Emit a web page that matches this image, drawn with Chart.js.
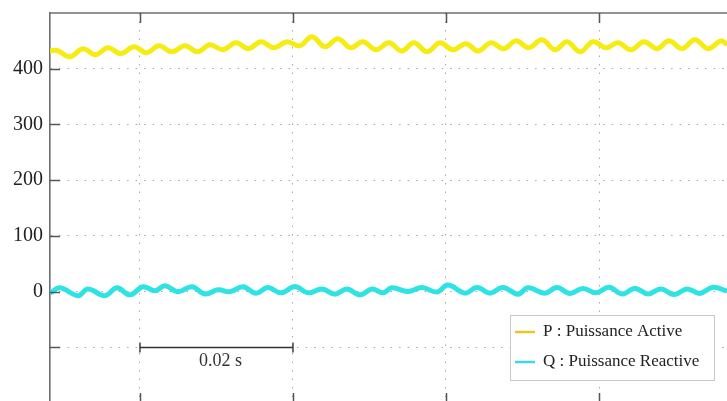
<!DOCTYPE html>
<html>
<head>
<meta charset="utf-8">
<script src="https://cdn.jsdelivr.net/npm/chart.js@4.4.1/dist/chart.umd.min.js"></script>
<style>
  html, body { margin: 0; padding: 0; background: #fff; overflow: hidden; }
  #wrap { width: 727px; height: 401px; }
</style>
</head>
<body>
<div id="wrap"><canvas id="puissance" width="727" height="401"></canvas></div>
<script>
// Temps en ms (0 = premiere ligne verticale de la grille), puissances
var tempsP = [-11.76, -10.85, -9.15, -7.45, -5.82, -4.18, -2.48, -0.78, 0.86, 2.48,
  4.18, 5.88, 7.53, 9.15, 10.85, 12.55, 14.20, 15.82, 17.52, 19.22,
  20.88, 22.48, 24.18, 25.88, 27.54, 29.15, 30.85, 32.55, 34.22, 35.82,
  37.52, 39.22, 40.89, 42.61, 44.18, 45.88, 47.56, 49.15, 50.85, 52.55,
  54.24, 55.82, 57.52, 59.22, 60.92, 62.48, 64.18, 65.88, 67.57, 69.15,
  70.85, 72.55, 74.25, 75.95, 76.73];
var valP = [432, 433, 421.5, 436, 425, 437.7, 427, 439.5, 428.7, 441.3,
  430.5, 441.3, 430.5, 443, 434, 446.7, 436, 448.5, 437.7, 448.5,
  441, 457.5, 439.5, 454, 437.7, 448.5, 434, 446.7, 432, 446.7,
  430.5, 446.7, 434, 445, 432, 446.7, 436, 450, 437.7, 452,
  434, 448.5, 430.5, 448.5, 437.7, 446.7, 434, 448.5, 436, 450,
  436, 452, 436, 450, 443];

var tempsQ = [-11.76, -10.46, -8.10, -6.80, -4.58, -3.01, -1.31, 0.39, 1.96, 3.27,
  4.97, 6.80, 8.50, 10.20, 11.76, 13.46, 15.16, 16.73, 18.43, 20.26,
  21.96, 23.79, 25.49, 27.06, 28.76, 30.33, 31.76, 32.94, 35.03, 36.86,
  38.82, 40.26, 42.48, 44.05, 45.75, 47.45, 49.41, 50.72, 52.94, 54.51,
  56.21, 57.91, 59.61, 61.31, 63.01, 64.71, 66.41, 68.10, 69.80, 71.50,
  73.20, 74.90, 76.73];
var valQ = [-2.5, 7, -7, 5, -7, 7, -5.6, 9, 1.6, 10.6,
  0, 9, -4, 3.5, 0, 9, -2.5, 7.5, -2, 9.3,
  -2, 5, -4.3, 5, -5.6, 5, -2, 7, 0.4, 7.5,
  -0.5, 12, -2.5, 7.5, -2.5, 7.5, -4.3, 7, -2.5, 7.5,
  -3, 6, -2, 8, -4, 6, -4, 5, -5, 5,
  -3, 8, 1];

var yTicks = [-100, 0, 100, 200, 300, 400];
var xTicks = [0, 20, 40, 60];
var nomsSeries = ['P : Puissance Active', 'Q : Puissance Reactive'];
var couleursSeries = ['#f6ec14', '#2fe2e4'];
var couleursLegende = ['#e8c52a', '#3ad8e0'];
// barre d'echelle : de 0 a 20 ms, posee sur la ligne -100
var echelleDebut = 0, echelleFin = 20, echelleNiveau = -100, echelleTexte = '0.02 s';

var serif = '"Liberation Serif", "DejaVu Serif", serif';

function points(t, v) {
  return t.map(function (x, i) { return { x: x, y: v[i] }; });
}

// cadre : bord haut, petites graduations interieures, barre 0.02 s, legende
var cadrePlugin = {
  id: 'cadre',
  afterDraw: function (chart) {
    var ctx = chart.ctx, a = chart.chartArea;
    var sx = chart.scales.x, sy = chart.scales.y;
    ctx.save();
    ctx.strokeStyle = '#6e6e6e';
    ctx.lineWidth = 1.6;
    ctx.beginPath();
    ctx.moveTo(a.left - 0.8, a.top);
    ctx.lineTo(a.right, a.top);
    ctx.stroke();

    ctx.lineWidth = 1.5;
    ctx.strokeStyle = '#555';
    xTicks.forEach(function (t) {
      var px = Math.round(sx.getPixelForValue(t)) + 0.5;
      ctx.beginPath();
      ctx.moveTo(px, a.top); ctx.lineTo(px, a.top + 10);
      ctx.moveTo(px, a.bottom); ctx.lineTo(px, a.bottom - 8);
      ctx.stroke();
    });
    yTicks.forEach(function (v) {
      var py = Math.round(sy.getPixelForValue(v)) + 0.5;
      ctx.beginPath();
      ctx.moveTo(a.left, py); ctx.lineTo(a.left + 10, py);
      ctx.stroke();
    });

    // barre d'echelle
    var x1 = sx.getPixelForValue(echelleDebut), x2 = sx.getPixelForValue(echelleFin);
    var yb = Math.round(sy.getPixelForValue(echelleNiveau)) + 0.5;
    ctx.strokeStyle = '#333';
    ctx.lineWidth = 1.4;
    ctx.beginPath();
    ctx.moveTo(x1, yb); ctx.lineTo(x2, yb);
    ctx.moveTo(x1, yb - 5); ctx.lineTo(x1, yb + 5);
    ctx.moveTo(x2, yb - 5); ctx.lineTo(x2, yb + 5);
    ctx.stroke();
    ctx.fillStyle = '#333';
    ctx.font = '18px ' + serif;
    ctx.textAlign = 'center';
    ctx.textBaseline = 'middle';
    ctx.fillText(echelleTexte, (x1 + x2) / 2 + 4, yb + 14);

    // legende
    var lx = 510, ly = 315, lw = 204, lh = 65;
    ctx.fillStyle = '#fff';
    ctx.fillRect(lx, ly, lw, lh);
    ctx.strokeStyle = '#c8c8c8';
    ctx.lineWidth = 1;
    ctx.strokeRect(lx + 0.5, ly + 0.5, lw, lh);
    ctx.font = '17px ' + serif;
    ctx.textAlign = 'left';
    nomsSeries.forEach(function (nom, i) {
      var cy = ly + 17 + i * 30;
      ctx.strokeStyle = couleursLegende[i];
      ctx.lineWidth = 2.5;
      ctx.beginPath();
      ctx.moveTo(lx + 5, cy); ctx.lineTo(lx + 25, cy);
      ctx.stroke();
      ctx.fillStyle = '#222';
      ctx.fillText(nom, lx + 33, cy);
    });
    ctx.restore();
  }
};

var ctxP = document.getElementById('puissance').getContext('2d');
var chartPuissance = new Chart(ctxP, {
  type: 'line',
  data: {
    datasets: [
      { label: nomsSeries[0], data: points(tempsP, valP), borderColor: couleursSeries[0],
        borderWidth: 5, pointRadius: 0, tension: 0.4, fill: false },
      { label: nomsSeries[1], data: points(tempsQ, valQ), borderColor: couleursSeries[1],
        borderWidth: 5, pointRadius: 0, tension: 0.4, fill: false }
    ]
  },
  options: {
    responsive: false, animation: false,
    layout: { padding: { top: 13, right: 0, bottom: 0, left: 0 } },
    scales: {
      x: {
        type: 'linear', min: -11.76, max: 76.73,
        afterBuildTicks: function (s) { s.ticks = xTicks.map(function (v) { return { value: v }; }); },
        afterFit: function (s) { s.height = 0; s.paddingLeft = 0; s.paddingRight = 0; },
        ticks: { display: false },
        grid: { color: '#a8a8a8', lineWidth: 1, drawTicks: false },
        border: { display: false, dash: [1.5, 7] }
      },
      y: {
        min: -196, max: 500,
        afterBuildTicks: function (s) { s.ticks = yTicks.map(function (v) { return { value: v }; }); },
        afterFit: function (s) { s.width = 50; s.paddingTop = 0; s.paddingBottom = 0; },
        ticks: {
          padding: 7, color: '#222',
          font: { family: serif, size: 20 },
          callback: function (v) { return v < 0 ? '' : String(v); }
        },
        grid: { color: '#a8a8a8', lineWidth: 1, drawTicks: false },
        border: { display: true, color: '#6e6e6e', width: 1.6, dash: [1.5, 7] }
      }
    },
    plugins: { legend: { display: false }, tooltip: { enabled: false } }
  },
  plugins: [cadrePlugin]
});
</script>
</body>
</html>
